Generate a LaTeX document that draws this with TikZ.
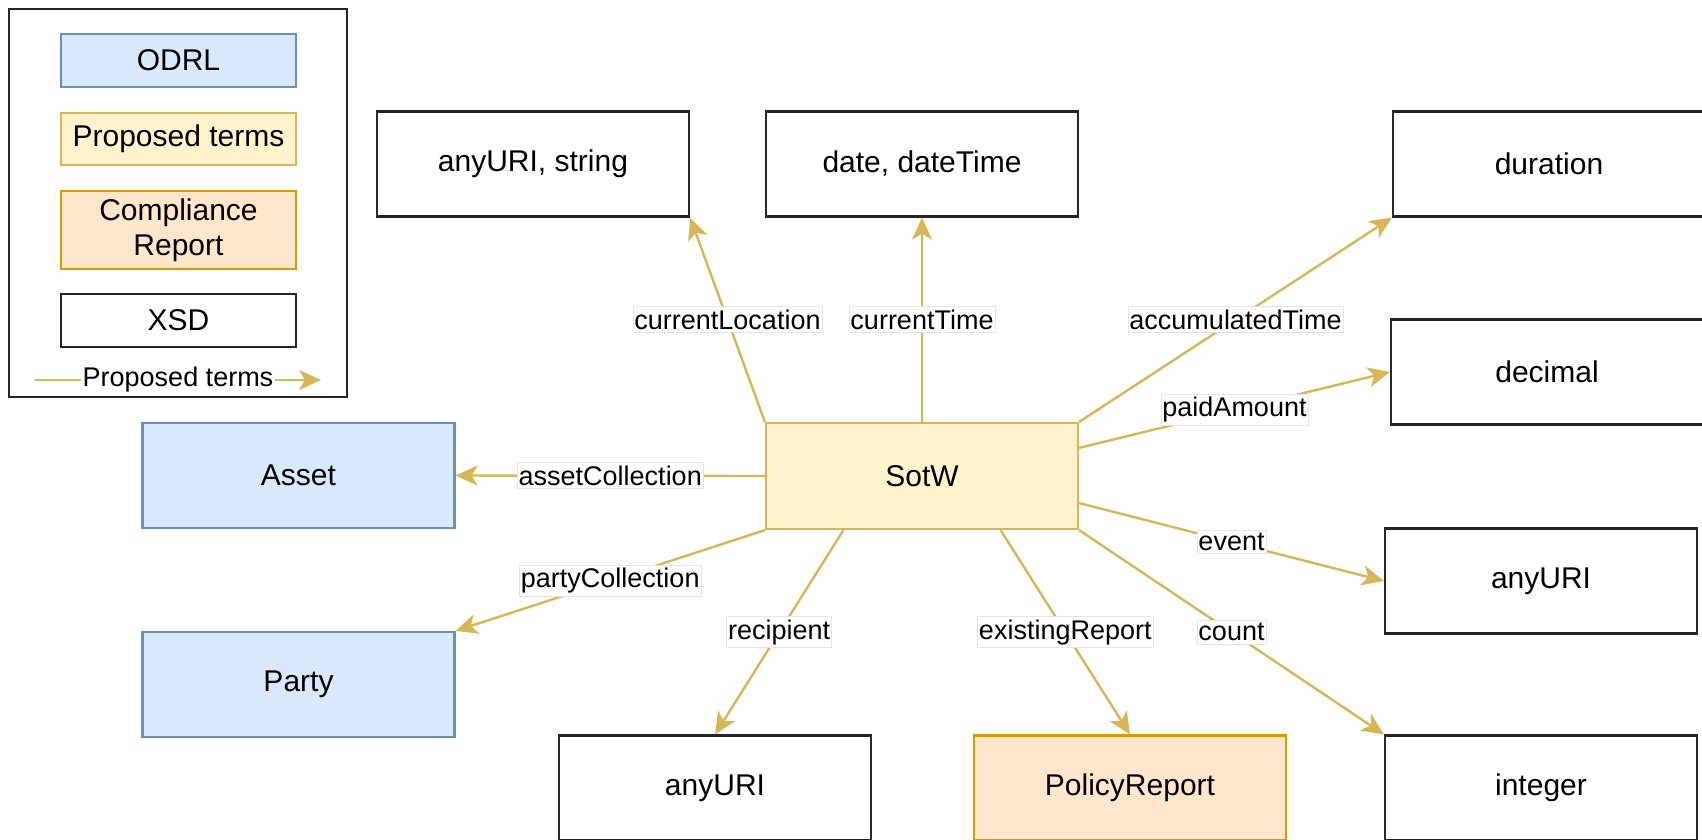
\documentclass[tikz,border=0pt]{standalone}
\usepackage{fontspec}
\setmainfont{Liberation Sans}
\usetikzlibrary{arrows.meta,calc}

\definecolor{odrlfill}{HTML}{DAE8FC}
\definecolor{odrlline}{HTML}{6C8EBF}
\definecolor{propfill}{HTML}{FFF2CC}
\definecolor{propline}{HTML}{D6B656}
\definecolor{repfill}{HTML}{FFE6CC}
\definecolor{repline}{HTML}{D79B00}
\definecolor{linkcol}{HTML}{D6B656}

\tikzset{
  box/.style={rectangle, inner sep=0pt, minimum width=312pt, minimum height=105pt,
    align=center, font=\fontsize{30}{36}\selectfont, line width=2.2pt},
  xsdbox/.style={box, draw=black!85, fill=white},
  odrlbox/.style={box, draw=odrlline, fill=odrlfill},
  propbox/.style={box, draw=propline, fill=propfill},
  repbox/.style={box, draw=repline, fill=repfill},
  legendframe/.style={rectangle, draw=black!85, line width=2.2pt, inner sep=0pt},
  link/.style={draw=linkcol, line width=2.4pt,
    -{Stealth[length=22pt, width=20pt, inset=6pt]}},
  elabel/.style={fill=white, draw=black!10, line width=0.8pt, inner xsep=1.5pt,
    inner ysep=3pt, font=\fontsize{27}{30}\selectfont, pos=0.5},
  leglabel/.style={fill=white, inner xsep=1.5pt, inner ysep=2pt,
    font=\fontsize{27}{30}\selectfont, pos=0.5},
}

\begin{document}
\begin{tikzpicture}[x=1pt, y=-1pt]
  \useasboundingbox (0,0) rectangle (1702,839);

  % legend
  \node[legendframe, minimum width=338pt, minimum height=388pt] (legend) at (178,203) {};
  \node[odrlbox, minimum width=235pt, minimum height=53pt] (lodrl) at (178.5,60.5) {ODRL};
  \node[propbox, minimum width=235pt, minimum height=52pt] (lprop) at (178.5,139) {Proposed terms};
  \node[repbox, minimum width=235pt, minimum height=78pt, font=\fontsize{30}{35}\selectfont] (lrep) at (178.5,230) {Compliance\\Report};
  \node[xsdbox, minimum width=235pt, minimum height=53pt] (lxsd) at (178.5,320.5) {XSD};
  \coordinate (la1) at (35,380);
  \coordinate (la2) at (321,380);
  \draw[link] (la1) -- node[leglabel] {Proposed terms} (la2);

  % central concept
  \node[propbox, minimum height=106pt] (sotw) at (922,476) {SotW};

  % ranges
  \node[xsdbox] (str) at (533,164) {anyURI, string};
  \node[xsdbox] (dt) at (922,164) {date, dateTime};
  \node[xsdbox] (dur) at (1549,164) {duration};
  \node[xsdbox] (dec) at (1547,372) {decimal};
  \node[odrlbox] (asset) at (298.5,475.5) {Asset};
  \node[xsdbox] (uriev) at (1541,581) {anyURI};
  \node[odrlbox] (party) at (298.5,684.5) {Party};
  \node[xsdbox] (urirec) at (715,788) {anyURI};
  \node[repbox] (prep) at (1130,788) {PolicyReport};
  \node[xsdbox] (int) at (1541,788) {integer};

  % properties
  \draw[link] (sotw.north west) -- node[elabel] {currentLocation} (str.south east);
  \draw[link] (sotw.north) -- node[elabel] {currentTime} (dt.south);
  \draw[link] (sotw.north east) -- node[elabel] {accumulatedTime} (dur.south west);
  \draw[link] ($(sotw.north east)!0.24!(sotw.south east)$) -- node[elabel] {paidAmount} (dec.west);
  \draw[link] (sotw.west) -- node[elabel] {assetCollection} (asset.east);
  \draw[link] (sotw.south west) -- node[elabel] {partyCollection} (party.north east);
  \draw[link] ($(sotw.north east)!0.75!(sotw.south east)$) -- node[elabel] {event} (uriev.west);
  \draw[link] (sotw.south east) -- node[elabel] {count} (int.north west);
  \draw[link] ($(sotw.south west)!0.25!(sotw.south east)$) -- node[elabel] {recipient} (urirec.north);
  \draw[link] ($(sotw.south west)!0.75!(sotw.south east)$) -- node[elabel] {existingReport} (prep.north);
\end{tikzpicture}
\end{document}
